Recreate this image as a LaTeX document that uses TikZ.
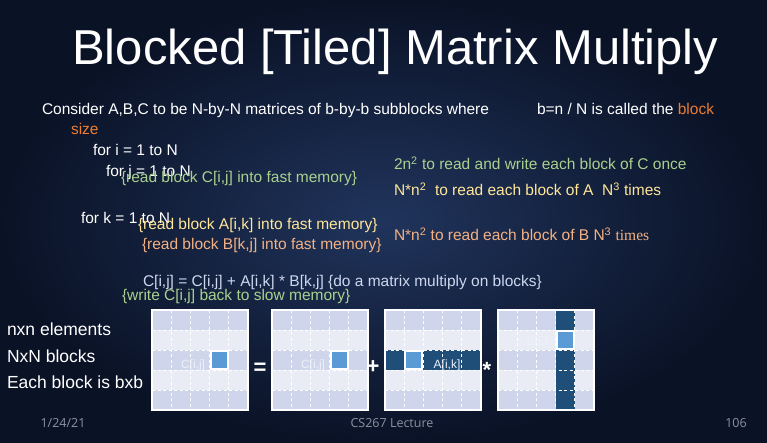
\documentclass[tikz,border=0pt]{standalone}
\usepackage{fontspec}
\setmainfont{Liberation Sans}
\newfontfamily\timesfont{Liberation Serif}
\newfontfamily\footfont{Open Sans}

\definecolor{bgin}{RGB}{32,52,92}
\definecolor{bgout}{RGB}{10,18,38}
\definecolor{hiorange}{RGB}{237,125,49}
\definecolor{cgreen}{RGB}{169,209,142}
\definecolor{ayellow}{RGB}{255,230,153}
\definecolor{bpeach}{RGB}{244,177,131}
\definecolor{updblue}{RGB}{205,215,238}
\definecolor{footgray}{RGB}{140,146,158}
\definecolor{rowdark}{RGB}{207,213,234}
\definecolor{rowlight}{RGB}{233,235,245}
\definecolor{bandblue}{RGB}{31,78,121}
\definecolor{cellblue}{RGB}{91,155,213}
\definecolor{celltext}{RGB}{238,241,250}

\newcommand{\bodysize}{\fontsize{15.5}{18}\selectfont}

% one 5x5 tiled matrix: #1 left x, #2 layer under the grid lines, #3 layer above them
\newcommand{\tilematrix}[3]{%
  \begin{scope}[shift={(#1,310)}]
    \foreach \r in {0,2,4} \fill[rowdark] (0,\r*20) rectangle ++(96,20);
    \foreach \r in {1,3} \fill[rowlight] (0,\r*20) rectangle ++(96,20);
    #2
    \foreach \k in {1,...,4} {
      \draw[gridline] (\k*19.2,0) -- (\k*19.2,100);
      \draw[gridline] (0,\k*20) -- (96,\k*20);
    }
    #3
    \draw[white, line width=2pt] (0,0) rectangle (96,100);
  \end{scope}}

\begin{document}
\begin{tikzpicture}[x=1pt, y=-1pt,
  txt/.style={anchor=base west, inner sep=0pt, outer sep=0pt, font=\bodysize},
  lbl/.style={anchor=base west, inner sep=0pt, outer sep=0pt, font=\fontsize{17.5}{20}\selectfont, text=white},
  foot/.style={anchor=base, inner sep=0pt, outer sep=0pt, font=\footfont\fontsize{12.5}{14}\selectfont, text=footgray},
  gridline/.style={white, line width=0.8pt, dash pattern=on 3pt off 2.5pt},
  cellbox/.style={white, line width=2pt, fill=cellblue},
  optext/.style={anchor=base, inner sep=0pt, text=white, font=\bfseries\fontsize{22}{24}\selectfont},
  mtext/.style={inner sep=0pt, font=\fontsize{12}{14}\selectfont}]

% background
\shade[inner color=bgin, outer color=bgout] (0,0) rectangle (767,443);
\useasboundingbox (0,0) rectangle (767,443);

% title
\node[anchor=base west, inner sep=0pt, text=white, font=\fontsize{49}{52}\selectfont] (title) at (72,65) {Blocked [Tiled] Matrix Multiply};

% introductory sentence
\node[txt, text=white] (intro) at (42,115) {Consider A,B,C to be N-by-N matrices of b-by-b subblocks where};
\node[txt, text=white] (bdef) at (537,115) {b=n / N is called the \textcolor{hiorange}{block}};
\node[txt, text=hiorange] (size) at (71,135) {size};

% loop nest
\node[txt, text=white] (fori) at (93,156) {for i = 1 to N};
\node[txt, text=white] (forj) at (106,177) {for j = 1 to N};
\node[txt, text=cgreen] (readc) at (121,183) {\{read block C[i,j] into fast memory\}};
\node[txt, text=white] (fork) at (81,224) {for k = 1 to N};
\node[txt, text=ayellow] (reada) at (138,230) {\{read block A[i,k] into fast memory\}};
\node[txt, text=bpeach] (readb) at (142,250) {\{read block B[k,j] into fast memory\}};
\node[txt, text=updblue] (update) at (143,287) {C[i,j] = C[i,j] + A[i,k] * B[k,j] \{do a matrix multiply on blocks\}};
\node[txt, text=cgreen] (writec) at (122,300) {\{write C[i,j] back to slow memory\}};

% traffic counts
\node[txt, text=cgreen] (costc) at (394,170) {2n\textsuperscript{2} to read and write each block of C once};
\node[txt, text=ayellow] (costa) at (394,196) {N*n\textsuperscript{2}\ \ to read each block of A\ \ N\textsuperscript{3} times};
\node[txt, text=bpeach] (costb) at (394,241) {N*n\textsuperscript{2} to read each block of B N\textsuperscript{3} {\timesfont times}};

% legend on the left
\node[lbl] (lelem) at (7,335) {nxn elements};
\node[lbl] (lblock) at (7,362) {NxN blocks};
\node[lbl] (lsize) at (7,388) {Each block is bxb};

% C = C + A * B on tiles
\tilematrix{152}{}{\draw[cellbox] (3*19.2+1,41) rectangle (4*19.2-1,59);}
\node[mtext, text=celltext] (cleft) at (193,365) {C[i,j]};

\node[optext] (eq) at (260,374.5) {=};

\tilematrix{272}{}{\draw[cellbox] (3*19.2+1,41) rectangle (4*19.2-1,59);}
\node[mtext, text=celltext] (cright) at (313,365) {C[i,j]};

\node[optext] (plus) at (373,373.5) {+};

\tilematrix{385}{\fill[bandblue] (0,40) rectangle (96,60);}{\draw[cellbox] (19.2+1,41) rectangle (2*19.2-1,59);}
\node[mtext, text=celltext] (ablk) at (447,365) {A[i,k]};

\node[optext] (times) at (487,377) {*};

\tilematrix{498}{\fill[bandblue] (3*19.2,0) rectangle (4*19.2,100);}{\draw[cellbox] (3*19.2+1,21) rectangle (4*19.2-1,39);}
\node[mtext, text=celltext] (bblk) at (540,342) {B[i,k]};

% footer
\node[foot] (fdate) at (63,427) {1/24/21};
\node[foot] (fcourse) at (392,427) {CS267 Lecture};
\node[foot] (fpage) at (736,427) {106};
\end{tikzpicture}
\end{document}
